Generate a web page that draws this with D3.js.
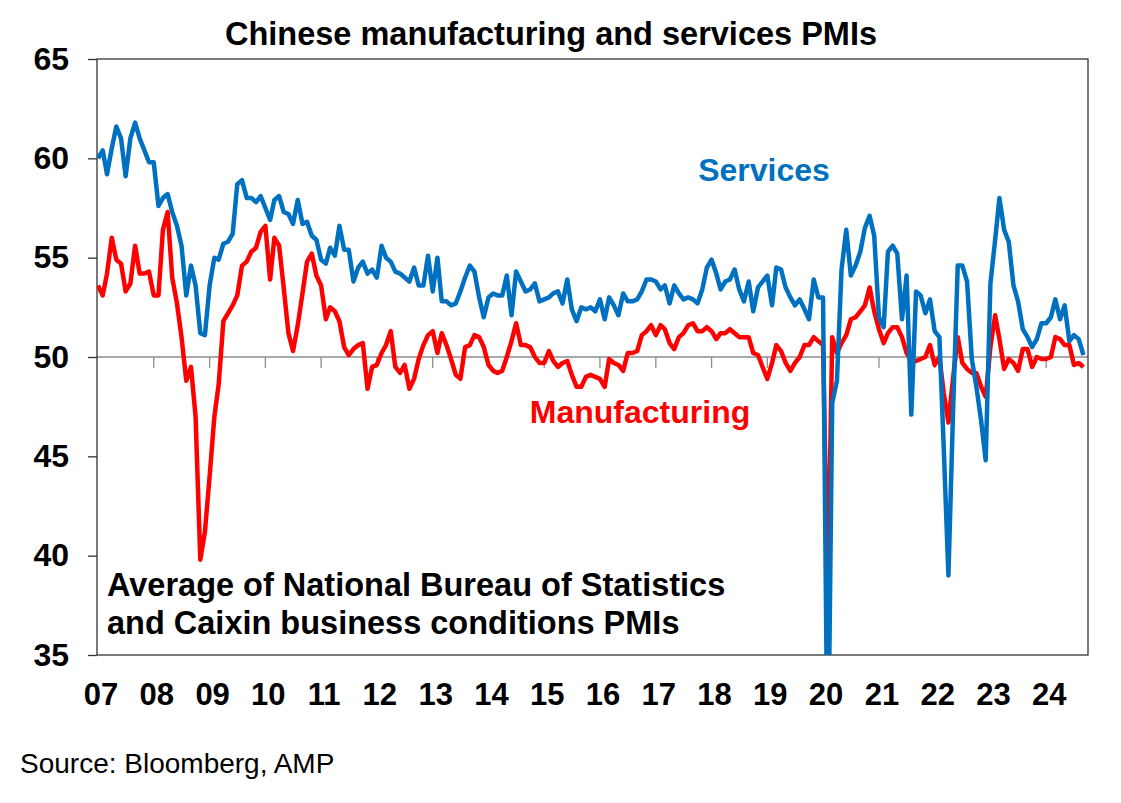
<!DOCTYPE html>
<html>
  <head>
    <meta charset="UTF-8">
    <title>Chinese manufacturing and services PMIs</title>
    <script src="https://d3js.org/d3.v7.min.js"></script>
    <style>
      body { margin: 0; background: #fff; }
      text { font-family: Arial, "Liberation Sans", sans-serif; }
    </style>
  </head>
  <body>
    <svg width="1121" height="803"></svg>
    <script>
      // Monthly values, Jan 2007 to Sep 2024
      var services = [
        60.0,60.4,59.2,60.5,61.6,61.0,59.1,61.0,61.8,61.0,60.4,59.8,
        59.8,57.6,58.0,58.2,57.3,56.6,55.6,53.1,54.6,53.6,51.2,51.1,
        53.6,55.0,54.9,55.7,55.8,56.2,58.7,58.9,58.0,58.0,57.8,58.1,
        57.5,56.9,57.9,58.1,57.3,57.2,56.7,57.9,56.7,56.8,56.1,55.9,
        54.9,54.7,55.5,55.1,56.6,55.4,55.4,53.8,54.5,54.8,54.2,54.4,
        54.0,55.6,55.0,54.8,54.3,54.2,54.0,53.8,54.5,53.6,53.6,55.1,
        53.3,55.0,52.8,52.8,52.6,52.7,53.3,54.0,54.6,54.3,53.0,52.0,
        53.0,53.2,53.1,53.1,54.1,52.1,54.3,53.8,53.3,53.4,53.7,52.8,
        52.9,53.0,53.2,53.3,52.7,53.9,52.4,51.8,52.5,52.4,52.5,52.3,
        52.9,51.9,53.0,52.6,52.1,53.2,52.8,52.8,52.9,53.3,53.9,53.9,
        53.8,53.4,53.6,52.7,53.6,53.2,52.9,53.0,52.9,52.7,53.4,54.5,
        54.9,54.2,53.4,53.8,53.9,54.4,53.4,52.8,53.8,52.3,53.5,53.8,
        54.1,52.6,54.5,54.4,53.5,53.0,52.6,52.9,52.4,51.9,53.9,53.0,
        53.0,28.0,47.7,48.8,54.4,56.4,54.1,54.6,55.3,56.5,57.1,56.1,
        52.0,51.5,55.3,55.6,55.2,51.9,54.1,47.1,53.3,53.1,52.2,52.9,
        51.3,51.0,45.5,39.0,47.2,54.6,54.6,53.8,49.9,48.5,46.8,44.8,
        53.7,55.9,58.0,56.4,55.8,53.6,52.8,51.4,51.0,50.5,50.9,51.7,
        51.7,52.0,52.9,51.9,52.6,50.8,51.1,50.9,50.1
      ];
      var manufacturing = [
        53.6,53.1,54.2,56.0,54.9,54.7,53.3,53.7,55.6,54.2,54.2,54.3,
        53.1,53.1,56.4,57.3,54.0,52.7,51.0,48.8,49.5,47.0,39.8,41.2,
        44.0,47.0,48.6,51.8,52.2,52.6,53.1,54.6,54.8,55.3,55.5,56.3,
        56.6,53.9,56.0,55.6,53.5,51.2,50.3,51.6,53.2,54.8,55.2,54.1,
        53.6,51.9,52.5,52.3,51.8,50.5,50.1,50.4,50.6,50.7,48.4,49.5,
        49.6,50.2,50.6,51.3,49.5,49.2,49.6,48.4,48.9,49.9,50.6,51.1,
        51.3,50.2,51.2,50.6,49.9,49.1,48.9,50.5,50.6,51.1,51.0,50.5,
        49.6,49.3,49.2,49.3,50.0,50.8,51.7,50.6,50.6,50.5,50.0,49.7,
        49.7,50.3,49.8,49.5,49.7,49.8,49.1,48.5,48.5,49.0,49.1,49.0,
        48.9,48.5,49.9,49.7,49.6,49.3,50.2,50.2,50.3,51.1,51.3,51.6,
        51.1,51.6,51.4,50.7,50.4,51.0,51.2,51.6,51.7,51.3,51.3,51.5,
        51.3,50.9,51.2,51.2,51.4,51.2,51.0,51.0,51.0,50.2,50.1,49.5,
        48.9,49.7,50.6,50.3,49.7,49.3,49.7,50.0,50.6,50.6,51.0,50.8,
        50.6,38.0,51.0,50.2,50.7,51.1,51.9,52.0,52.3,52.6,53.5,52.3,
        51.4,50.7,51.2,51.5,51.5,51.0,50.2,49.8,49.8,49.9,50.0,50.6,
        49.6,50.0,48.2,46.7,48.9,51.0,49.7,49.4,49.2,49.2,48.5,48.0,
        50.5,52.1,50.9,49.4,49.9,49.7,49.3,50.4,50.4,49.5,50.0,49.9,
        49.9,50.0,51.0,50.9,50.6,50.6,49.6,49.7,49.5
      ];
      var yearLabels = ["07","08","09","10","11","12","13","14","15","16","17","18","19","20","21","22","23","24"];
      var yTicks = [35, 40, 45, 50, 55, 60, 65];

      var months = d3.timeMonth.range(new Date(2007, 0, 1), new Date(2007 + Math.floor(services.length / 12), services.length % 12, 1));

      var svg = d3.select("svg"),
          margin = {top: 59, right: 33, bottom: 148, left: 97},
          width = +svg.attr("width") - margin.left - margin.right,
          height = +svg.attr("height") - margin.top - margin.bottom,
          g = svg.append("g").attr("transform", "translate(" + margin.left + "," + margin.top + ")");

      var x = d3.scaleTime()
          .domain([new Date(2007, 0, 1), new Date(2024, 9, 1)])
          .range([1, width]);
      var y = d3.scaleLinear().domain([35, 65]).range([height, 0]);

      // clip so the 2020 plunge is cut at the bottom
      svg.append("clipPath").attr("id", "clip")
        .append("rect").attr("width", width).attr("height", height);

      // horizontal axis line at 50 with year ticks
      g.append("line")
          .attr("x1", 0).attr("x2", width)
          .attr("y1", y(50)).attr("y2", y(50))
          .attr("stroke", "#8c8c8c").attr("stroke-width", 1.3);
      var years = yearLabels.map(function(d, i) { return new Date(2007 + i, 0, 1); });
      g.selectAll(".xt").data(years.slice(1)).enter().append("line")
          .attr("x1", function(d) { return x(d); }).attr("x2", function(d) { return x(d); })
          .attr("y1", y(50)).attr("y2", y(50) + 11)
          .attr("stroke", "#8c8c8c").attr("stroke-width", 1.3);

      // year labels
      g.selectAll(".xl").data(years).enter().append("text")
          .attr("x", function(d) { return x(d) + 3; })
          .attr("y", height + 50)
          .attr("text-anchor", "middle")
          .attr("font-size", 31).attr("font-weight", "bold")
          .text(function(d, i) { return yearLabels[i]; });

      // y axis
      var yAxis = g.append("g").call(d3.axisLeft(y).tickValues(yTicks).tickSize(9).tickPadding(19));
      yAxis.select(".domain").remove();
      yAxis.selectAll("line").attr("stroke", "#333").attr("stroke-width", 1.3);
      yAxis.selectAll("text").attr("font-size", 32).attr("font-weight", "bold")
          .attr("fill", "#000").style("font-family", "Arial, 'Liberation Sans', sans-serif");

      // plot frame
      g.append("rect").attr("width", width).attr("height", height)
          .attr("fill", "none").attr("stroke", "#333").attr("stroke-width", 1.3);

      var line = d3.line()
          .x(function(d, i) { return x(months[i]); })
          .y(function(d) { return y(d); });

      g.append("path").datum(manufacturing)
          .attr("clip-path", "url(#clip)")
          .attr("fill", "none").attr("stroke", "#ff0000")
          .attr("stroke-width", 4.5).attr("stroke-linejoin", "round")
          .attr("d", line);
      g.append("path").datum(services)
          .attr("clip-path", "url(#clip)")
          .attr("fill", "none").attr("stroke", "#0070c0")
          .attr("stroke-width", 4.5).attr("stroke-linejoin", "round")
          .attr("d", line);

      // texts
      svg.append("text").attr("x", 551).attr("y", 45).attr("text-anchor", "middle")
          .attr("font-size", 32.5).attr("font-weight", "bold").text("Chinese manufacturing and services PMIs");
      svg.append("text").attr("x", 764).attr("y", 181).attr("text-anchor", "middle")
          .attr("font-size", 32).attr("font-weight", "bold").attr("fill", "#0070c0").text("Services");
      svg.append("text").attr("x", 640).attr("y", 423).attr("text-anchor", "middle")
          .attr("font-size", 32).attr("font-weight", "bold").attr("fill", "#ff0000").text("Manufacturing");
      svg.append("text").attr("x", 107).attr("y", 596)
          .attr("font-size", 32.5).attr("font-weight", "bold").text("Average of National Bureau of Statistics");
      svg.append("text").attr("x", 107).attr("y", 634)
          .attr("font-size", 32.5).attr("font-weight", "bold").text("and Caixin business conditions PMIs");
      svg.append("text").attr("x", 20).attr("y", 773)
          .attr("font-size", 28).text("Source: Bloomberg, AMP");
    </script>
  </body>
</html>
